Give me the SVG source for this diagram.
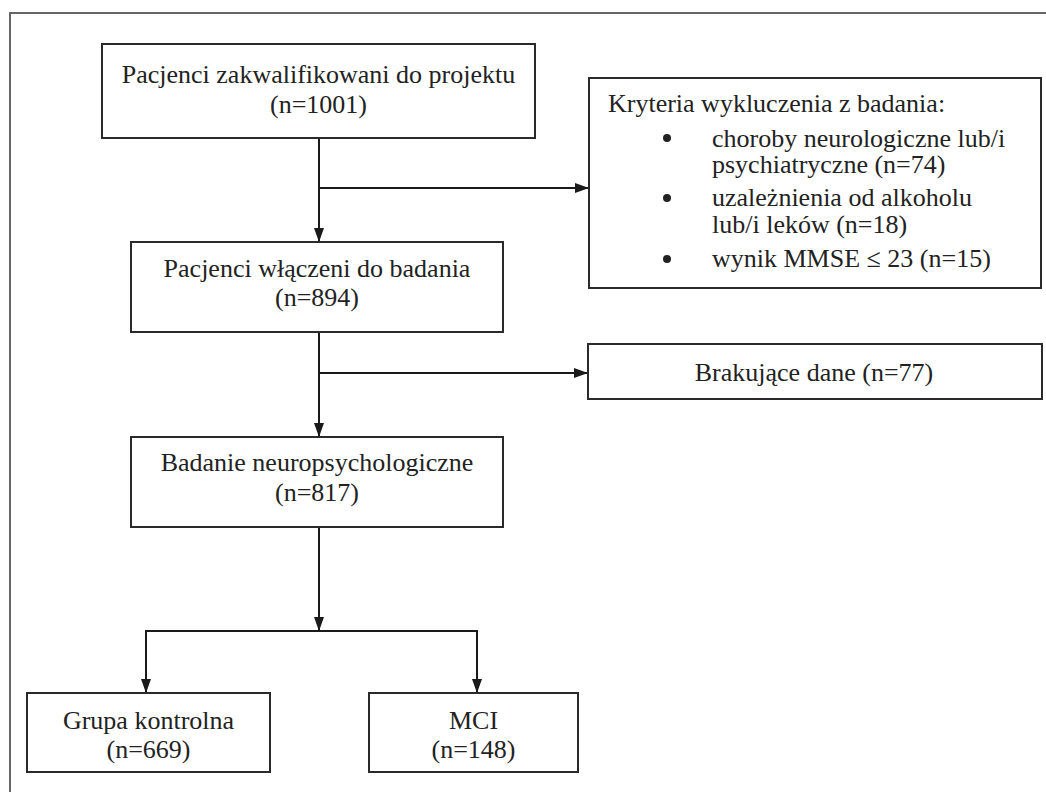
<svg xmlns="http://www.w3.org/2000/svg" width="1046" height="792" viewBox="0 0 1046 792">
<style>
.box{fill:#fff;stroke:#2a2a2a;stroke-width:2}
.frame{fill:none;stroke:#666;stroke-width:2}
.t{font-family:"Liberation Serif","Times New Roman",serif;font-size:26px;fill:#222}
.c{text-anchor:middle}
.ln{fill:none;stroke:#1a1a1a;stroke-width:2}
</style>
<defs>
<marker id="ah" markerWidth="14" markerHeight="10" refX="13" refY="5" orient="auto" markerUnits="userSpaceOnUse">
<path d="M0,0 L14,5 L0,10 Z" fill="#1a1a1a"/>
</marker>
</defs>
<rect width="1046" height="792" fill="#fff"/>
<rect class="frame" x="10" y="13" width="1050" height="800"/>
<g id="connectors">
<path class="ln" d="M319,138 V241" marker-end="url(#ah)"/>
<path class="ln" d="M319,188 H588" marker-end="url(#ah)"/>
<path class="ln" d="M319,332 V436" marker-end="url(#ah)"/>
<path class="ln" d="M319,373 H587" marker-end="url(#ah)"/>
<path class="ln" d="M319,527 V630"/>
<path class="ln" d="M319,600 V630" marker-end="url(#ah)"/>
<path class="ln" d="M146,692 V631 H477 V692"/>
<path class="ln" d="M146,660 V692" marker-end="url(#ah)"/>
<path class="ln" d="M477,660 V692" marker-end="url(#ah)"/>
</g>
<g id="n1">
<rect class="box" x="102" y="44" width="433" height="94"/>
<text class="t c" x="318.5" y="83">Pacjenci zakwalifikowani do projektu</text>
<text class="t c" x="318.5" y="113">(n=1001)</text>
</g>
<g id="n_excl">
<rect class="box" x="589" y="78" width="452" height="210"/>
<text class="t" x="608" y="112">Kryteria wykluczenia z badania:</text>
<circle cx="667" cy="138" r="4" fill="#222"/>
<text class="t" x="712" y="147">choroby neurologiczne lub/i</text>
<text class="t" x="712" y="173">psychiatryczne (n=74)</text>
<circle cx="667" cy="198" r="4" fill="#222"/>
<text class="t" x="712" y="206">uzależnienia od alkoholu</text>
<text class="t" x="712" y="233">lub/i leków (n=18)</text>
<circle cx="667" cy="259" r="4" fill="#222"/>
<text class="t" x="712" y="267">wynik MMSE ≤ 23 (n=15)</text>
</g>
<g id="n2">
<rect class="box" x="131" y="242" width="372" height="90"/>
<text class="t c" x="317" y="277">Pacjenci włączeni do badania</text>
<text class="t c" x="317" y="306">(n=894)</text>
</g>
<g id="n_missing">
<rect class="box" x="588" y="344" width="454" height="55"/>
<text class="t c" x="814" y="381">Brakujące dane (n=77)</text>
</g>
<g id="n3">
<rect class="box" x="131" y="437" width="372" height="90"/>
<text class="t c" x="317" y="471">Badanie neuropsychologiczne</text>
<text class="t c" x="317" y="501">(n=817)</text>
</g>
<g id="n_control">
<rect class="box" x="27" y="693" width="243" height="79"/>
<text class="t c" x="148.5" y="729">Grupa kontrolna</text>
<text class="t c" x="148.5" y="758">(n=669)</text>
</g>
<g id="n_mci">
<rect class="box" x="369" y="693" width="209" height="79"/>
<text class="t c" x="473.5" y="729">MCI</text>
<text class="t c" x="473.5" y="758">(n=148)</text>
</g>
</svg>
